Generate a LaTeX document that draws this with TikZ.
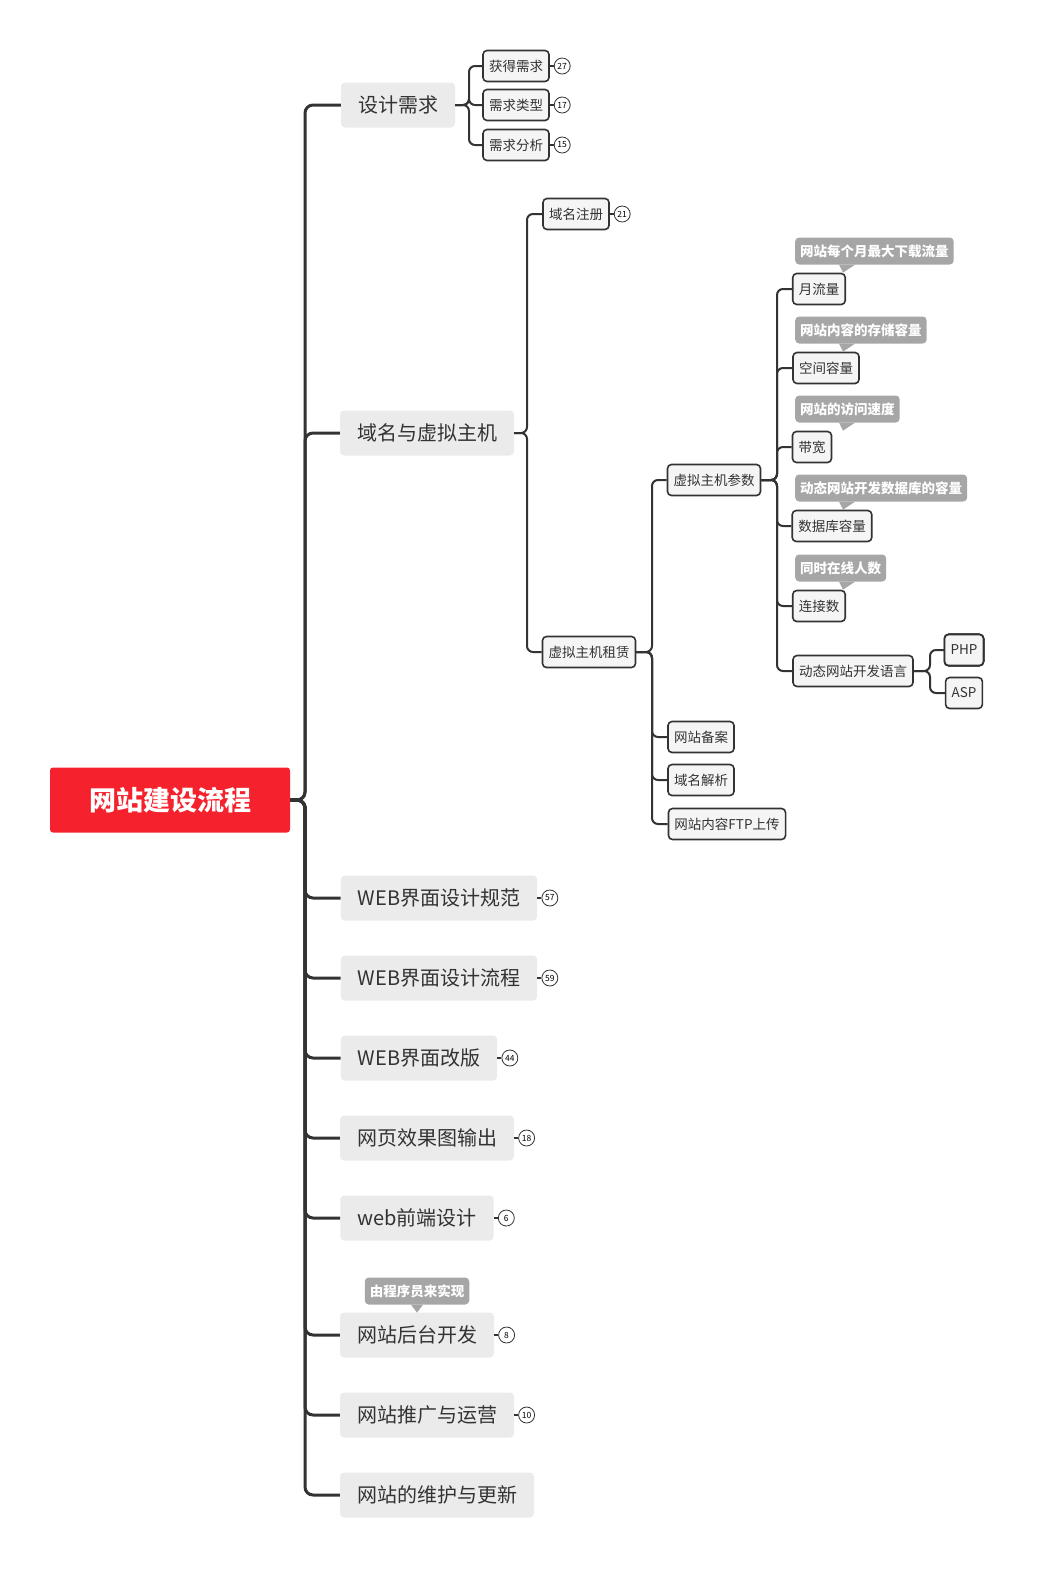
\documentclass[tikz,border=0pt]{standalone}
\usepackage{fontspec}
\setmainfont{Noto Sans CJK SC}
\usetikzlibrary{positioning}
\definecolor{rootred}{HTML}{F5222D}
\definecolor{topgray}{HTML}{EBEBEB}
\definecolor{linegray}{HTML}{333333}
\definecolor{notegray}{HTML}{A6A6A6}
\tikzset{
  rootbox/.style={fill=rootred,rounded corners=3pt,text=white,font=\fontsize{27}{27}\selectfont\bfseries,minimum width=240pt,minimum height=65pt,inner sep=0pt},
  topbox/.style={fill=topgray,rounded corners=4pt,text=linegray,font=\fontsize{20}{20}\selectfont,minimum height=45pt,inner xsep=17pt,inner ysep=0pt},
  subbox/.style={draw=linegray,line width=1.6pt,fill=white!96!black,rounded corners=4pt,text=linegray,font=\fontsize{13.5}{13.5}\selectfont,minimum height=31pt,inner xsep=6pt,inner ysep=0pt},
  notebox/.style={fill=notegray,rounded corners=4pt,text=white,font=\fontsize{13.5}{13.5}\selectfont\bfseries,minimum height=27pt,inner xsep=5pt,inner ysep=0pt},
  countc/.style={draw=linegray,line width=0.8pt,circle,inner sep=0pt,minimum size=16pt,font=\fontsize{8.5}{8.5}\selectfont,fill=white},
  thick conn/.style={draw=linegray,line width=3pt,rounded corners=8pt},
  conn/.style={draw=linegray,line width=2pt,rounded corners=6pt},
}
\newcommand{\notepin}[1]{\fill[notegray] ([xshift=44pt]#1.south west) -- ([xshift=60pt]#1.south west) -- ([xshift=48pt,yshift=-8pt]#1.south west) -- cycle;}
\begin{document}
\begin{tikzpicture}[x=1pt,y=-1pt]
\useasboundingbox (0,0) rectangle (1046,1583);
% root and first level
\node (root) [rootbox] at (170,800) {网站建设流程};
\node (req) [topbox] at (398,105) {设计需求};
\node (dom) [topbox] at (427,433) {域名与虚拟主机};
\node (spec) [topbox] at (439,898) {WEB界面设计规范};
\node (flow) [topbox] at (439,978) {WEB界面设计流程};
\node (redo) [topbox] at (419,1058) {WEB界面改版};
\node (img) [topbox] at (427,1138) {网页效果图输出};
\node (front) [topbox] at (417,1218) {web前端设计};
\node (back) [topbox] at (417,1335) {网站后台开发};
\node (promo) [topbox] at (427,1415) {网站推广与运营};
\node (maint) [topbox] at (437,1495) {网站的维护与更新};
\coordinate (spine) at (305,800);
\foreach \n in {req,dom,spec,flow,redo,img,front,back,promo,maint}
  \draw[thick conn] (root.east) -- (spine) |- (\n.west);
% counts on first level
\foreach \n/\c in {spec/57,flow/59,redo/44,img/18,front/6,back/8,promo/10} {
  \node (\n c) [countc,right=4pt of \n] {\c};
  \draw[conn] (\n.east) -- (\n c.west);
}
\node (backnote) [notebox] at (417,1291) {由程序员来实现};
\fill[notegray] ([xshift=-6pt]backnote.south) -- ([xshift=6pt]backnote.south) -- ([yshift=-8pt]backnote.south) -- cycle;
% design requirements
\node (get) [subbox] at (516,66) {获得需求};
\node (kind) [subbox] at (516,105) {需求类型};
\node (ana) [subbox] at (516,145) {需求分析};
\foreach \n/\c in {get/27,kind/17,ana/15} {
  \draw[conn] (req.east) -- (469,105) |- (\n.west);
  \node (\n c) [countc,right=4pt of \n] {\c};
  \draw[conn] (\n.east) -- (\n c.west);
}
% domain and host
\node (reg) [subbox] at (576,214) {域名注册};
\node (rent) [subbox] at (589,652) {虚拟主机租赁};
\node (regc) [countc,right=4pt of reg] {21};
\draw[conn] (reg.east) -- (regc.west);
\foreach \n in {reg,rent}
  \draw[conn] (dom.east) -- (527,433) |- (\n.west);
\node (par) [subbox] at (714,480) {虚拟主机参数};
\node (rec) [subbox] at (701,737) {网站备案};
\node (dns) [subbox] at (701,780) {域名解析};
\node (ftp) [subbox] at (727,824) {网站内容FTP上传};
\foreach \n in {par,rec,dns,ftp}
  \draw[conn] (rent.east) -- (652,652) |- (\n.west);
% host parameters
\node (traf) [subbox] at (819,289) {月流量};
\node (space) [subbox] at (826,368) {空间容量};
\node (band) [subbox] at (812,447) {带宽};
\node (db) [subbox] at (832,526) {数据库容量};
\node (conc) [subbox] at (819,606) {连接数};
\node (lang) [subbox] at (853,671) {动态网站开发语言};
\foreach \n in {traf,space,band,db,conc,lang}
  \draw[conn] (par.east) -- (777,480) |- (\n.west);
\node (trafn) [notebox,anchor=west] at (795,251) {网站每个月最大下载流量};
\node (spacen) [notebox,anchor=west] at (795,330) {网站内容的存储容量};
\node (bandn) [notebox,anchor=west] at (795,409) {网站的访问速度};
\node (dbn) [notebox,anchor=west] at (795,488) {动态网站开发数据库的容量};
\node (concn) [notebox,anchor=west] at (795,568) {同时在线人数};
\foreach \n in {trafn,spacen,bandn,dbn,concn}
  \notepin{\n}
\node (php) [subbox] at (964,650) {PHP};
\node (asp) [subbox] at (964,693) {ASP};
\foreach \n in {php,asp}
  \draw[conn] (lang.east) -- (930,671) |- (\n.west);
\end{tikzpicture}
\end{document}
